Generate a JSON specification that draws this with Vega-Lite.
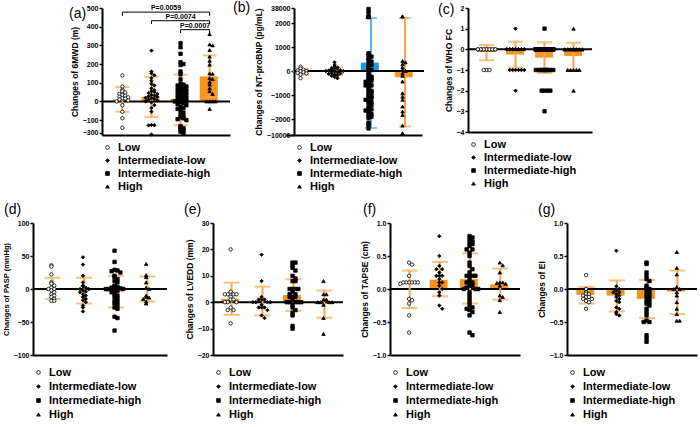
{
"$schema": "https://vega.github.io/schema/vega-lite/v6.json",
"padding": {"left": 2, "top": 1, "right": 0, "bottom": 0},
"background": "white",
"datasets": {
"a": [{"g":"L","v":139},{"g":"L","v":80},{"g":"L","v":62},{"g":"L","v":55},{"g":"L","v":48},{"g":"L","v":40},{"g":"L","v":35},{"g":"L","v":30},{"g":"L","v":25},{"g":"L","v":22},{"g":"L","v":18},{"g":"L","v":15},{"g":"L","v":10},{"g":"L","v":5},{"g":"L","v":0},{"g":"L","v":-20},{"g":"L","v":-55},{"g":"L","v":-90},{"g":"L","v":-255},
{"g":"IL","v":272},{"g":"IL","v":160},{"g":"IL","v":150},{"g":"IL","v":140},{"g":"IL","v":125},{"g":"IL","v":110},{"g":"IL","v":95},{"g":"IL","v":85},{"g":"IL","v":70},{"g":"IL","v":60},{"g":"IL","v":55},{"g":"IL","v":50},{"g":"IL","v":45},{"g":"IL","v":40},{"g":"IL","v":35},{"g":"IL","v":30},{"g":"IL","v":28},{"g":"IL","v":25},{"g":"IL","v":20},{"g":"IL","v":18},{"g":"IL","v":15},{"g":"IL","v":10},{"g":"IL","v":5},{"g":"IL","v":0},{"g":"IL","v":-5},{"g":"IL","v":-20},{"g":"IL","v":-35},{"g":"IL","v":-55},{"g":"IL","v":-230},{"g":"IL","v":-232},{"g":"IL","v":-234},{"g":"IL","v":-315},
{"g":"IH","v":312},{"g":"IH","v":290},{"g":"IH","v":255},{"g":"IH","v":210},{"g":"IH","v":200},{"g":"IH","v":195},{"g":"IH","v":160},{"g":"IH","v":145},{"g":"IH","v":118},{"g":"IH","v":95},{"g":"IH","v":90},{"g":"IH","v":85},{"g":"IH","v":80},{"g":"IH","v":75},{"g":"IH","v":70},{"g":"IH","v":65},{"g":"IH","v":60},{"g":"IH","v":55},{"g":"IH","v":50},{"g":"IH","v":45},{"g":"IH","v":40},{"g":"IH","v":35},{"g":"IH","v":30},{"g":"IH","v":25},{"g":"IH","v":20},{"g":"IH","v":15},{"g":"IH","v":10},{"g":"IH","v":5},{"g":"IH","v":0},{"g":"IH","v":0},{"g":"IH","v":-5},{"g":"IH","v":-10},{"g":"IH","v":-15},{"g":"IH","v":-20},{"g":"IH","v":-30},{"g":"IH","v":-35},{"g":"IH","v":-40},{"g":"IH","v":-50},{"g":"IH","v":-60},{"g":"IH","v":-70},{"g":"IH","v":-80},{"g":"IH","v":-85},{"g":"IH","v":-90},{"g":"IH","v":-95},{"g":"IH","v":-100},{"g":"IH","v":-240},{"g":"IH","v":-250},{"g":"IH","v":-260},{"g":"IH","v":-270},{"g":"IH","v":-280},{"g":"IH","v":-290},{"g":"IH","v":-300},
{"g":"H","v":360},{"g":"H","v":305},{"g":"H","v":300},{"g":"H","v":275},{"g":"H","v":240},{"g":"H","v":218},{"g":"H","v":197},{"g":"H","v":150},{"g":"H","v":148},{"g":"H","v":125},{"g":"H","v":120},{"g":"H","v":105},{"g":"H","v":90},{"g":"H","v":70},{"g":"H","v":55},{"g":"H","v":40},{"g":"H","v":0},{"g":"H","v":0},{"g":"H","v":0},{"g":"H","v":0},{"g":"H","v":-40}],
"as": [{"g":"L","m":10,"lo":-55,"hi":77},{"g":"IL","m":24,"lo":-83,"hi":132},{"g":"IH","m":15,"lo":-232,"hi":143},{"g":"H","m":134,"lo":22,"hi":246}],
"ab": [{"f":"L","t":"H","y":478,"yt":458,"lab":"P=0.0059","mid":"IL"},{"f":"IL","t":"H","y":432,"yt":414,"lab":"P=0.0074","mid":"IH"},{"f":"IH","t":"H","y":384,"yt":366,"lab":"P=0.0007","mid":"IH"}],
"b": [{"g":"L","v":180},{"g":"L","v":100},{"g":"L","v":50},{"g":"L","v":20},{"g":"L","v":0},{"g":"L","v":-20},{"g":"L","v":-50},{"g":"L","v":-80},{"g":"L","v":-100},{"g":"L","v":-150},{"g":"L","v":-300},
{"g":"IL","v":360},{"g":"IL","v":250},{"g":"IL","v":200},{"g":"IL","v":150},{"g":"IL","v":120},{"g":"IL","v":100},{"g":"IL","v":80},{"g":"IL","v":50},{"g":"IL","v":30},{"g":"IL","v":20},{"g":"IL","v":0},{"g":"IL","v":0},{"g":"IL","v":-20},{"g":"IL","v":-50},{"g":"IL","v":-80},{"g":"IL","v":-100},{"g":"IL","v":-120},{"g":"IL","v":-150},{"g":"IL","v":-180},{"g":"IL","v":-200},{"g":"IL","v":-250},{"g":"IL","v":-300},
{"g":"IH","v":35600},{"g":"IH","v":27700},{"g":"IH","v":18000},{"g":"IH","v":17000},{"g":"IH","v":16000},{"g":"IH","v":740},{"g":"IH","v":670},{"g":"IH","v":600},{"g":"IH","v":530},{"g":"IH","v":460},{"g":"IH","v":390},{"g":"IH","v":320},{"g":"IH","v":250},{"g":"IH","v":180},{"g":"IH","v":110},{"g":"IH","v":40},{"g":"IH","v":-100},{"g":"IH","v":-170},{"g":"IH","v":-240},{"g":"IH","v":-300},{"g":"IH","v":-310},{"g":"IH","v":-380},{"g":"IH","v":-400},{"g":"IH","v":-450},{"g":"IH","v":-520},{"g":"IH","v":-600},{"g":"IH","v":-600},{"g":"IH","v":-680},{"g":"IH","v":-760},{"g":"IH","v":-830},{"g":"IH","v":-900},{"g":"IH","v":-900},{"g":"IH","v":-980},{"g":"IH","v":-1050},{"g":"IH","v":-1100},{"g":"IH","v":-1120},{"g":"IH","v":-1200},{"g":"IH","v":-1270},{"g":"IH","v":-1300},{"g":"IH","v":-1340},{"g":"IH","v":-1420},{"g":"IH","v":-1500},{"g":"IH","v":-1580},{"g":"IH","v":-1600},{"g":"IH","v":-1650},{"g":"IH","v":-1730},{"g":"IH","v":-1800},{"g":"IH","v":-1870},{"g":"IH","v":-1900},{"g":"IH","v":-1950},{"g":"IH","v":-3800},{"g":"IH","v":-5000},{"g":"IH","v":-6700},
{"g":"H","v":18000},{"g":"H","v":17500},{"g":"H","v":420},{"g":"H","v":360},{"g":"H","v":280},{"g":"H","v":150},{"g":"H","v":50},{"g":"H","v":0},{"g":"H","v":-100},{"g":"H","v":-200},{"g":"H","v":-440},{"g":"H","v":-930},{"g":"H","v":-1070},{"g":"H","v":-1200},{"g":"H","v":-1480},{"g":"H","v":-1690},{"g":"H","v":-1830},{"g":"H","v":-5300},{"g":"H","v":-9100},{"g":"H","v":-9300}],
"bs": [{"g":"L","m":-40,"lo":-150,"hi":80},{"g":"IL","m":-10,"lo":-170,"hi":150},{"g":"IH","m":350,"lo":-6500,"hi":14000},{"g":"H","m":-260,"lo":-5700,"hi":14000}],
"c": [{"g":"L","v":0},{"g":"L","v":0},{"g":"L","v":0},{"g":"L","v":0},{"g":"L","v":0},{"g":"L","v":0},{"g":"L","v":0},{"g":"L","v":0},{"g":"L","v":0},{"g":"L","v":0},{"g":"L","v":0},{"g":"L","v":0},{"g":"L","v":0},{"g":"L","v":0},{"g":"L","v":-1},{"g":"L","v":-1},{"g":"L","v":-1},
{"g":"IL","v":1},{"g":"IL","v":0},{"g":"IL","v":0},{"g":"IL","v":0},{"g":"IL","v":0},{"g":"IL","v":0},{"g":"IL","v":0},{"g":"IL","v":0},{"g":"IL","v":0},{"g":"IL","v":0},{"g":"IL","v":0},{"g":"IL","v":0},{"g":"IL","v":0},{"g":"IL","v":0},{"g":"IL","v":0},{"g":"IL","v":0},{"g":"IL","v":0},{"g":"IL","v":0},{"g":"IL","v":0},{"g":"IL","v":-1},{"g":"IL","v":-1},{"g":"IL","v":-1},{"g":"IL","v":-1},{"g":"IL","v":-1},{"g":"IL","v":-1},{"g":"IL","v":-2},
{"g":"IH","v":1},{"g":"IH","v":0},{"g":"IH","v":0},{"g":"IH","v":0},{"g":"IH","v":0},{"g":"IH","v":0},{"g":"IH","v":0},{"g":"IH","v":0},{"g":"IH","v":0},{"g":"IH","v":0},{"g":"IH","v":0},{"g":"IH","v":0},{"g":"IH","v":0},{"g":"IH","v":0},{"g":"IH","v":0},{"g":"IH","v":0},{"g":"IH","v":0},{"g":"IH","v":0},{"g":"IH","v":0},{"g":"IH","v":0},{"g":"IH","v":0},{"g":"IH","v":0},{"g":"IH","v":0},{"g":"IH","v":0},{"g":"IH","v":0},{"g":"IH","v":0},{"g":"IH","v":0},{"g":"IH","v":0},{"g":"IH","v":0},{"g":"IH","v":0},{"g":"IH","v":0},{"g":"IH","v":0},{"g":"IH","v":0},{"g":"IH","v":0},{"g":"IH","v":0},{"g":"IH","v":0},{"g":"IH","v":0},{"g":"IH","v":0},{"g":"IH","v":0},{"g":"IH","v":-1},{"g":"IH","v":-1},{"g":"IH","v":-1},{"g":"IH","v":-1},{"g":"IH","v":-1},{"g":"IH","v":-1},{"g":"IH","v":-1},{"g":"IH","v":-1},{"g":"IH","v":-1},{"g":"IH","v":-1},{"g":"IH","v":-2},{"g":"IH","v":-2},{"g":"IH","v":-2},{"g":"IH","v":-2},{"g":"IH","v":-3},
{"g":"H","v":1},{"g":"H","v":0},{"g":"H","v":0},{"g":"H","v":0},{"g":"H","v":0},{"g":"H","v":0},{"g":"H","v":0},{"g":"H","v":0},{"g":"H","v":0},{"g":"H","v":0},{"g":"H","v":0},{"g":"H","v":0},{"g":"H","v":0},{"g":"H","v":0},{"g":"H","v":0},{"g":"H","v":0},{"g":"H","v":0},{"g":"H","v":-1},{"g":"H","v":-1},{"g":"H","v":-1},{"g":"H","v":-1},{"g":"H","v":-1},{"g":"H","v":-2}],
"cs": [{"g":"L","m":-0.13,"lo":-0.53,"hi":0.21},{"g":"IL","m":-0.25,"lo":-0.89,"hi":0.37},{"g":"IH","m":-0.4,"lo":-1.15,"hi":0.34},{"g":"H","m":-0.32,"lo":-0.99,"hi":0.32}],
"d": [{"g":"L","v":36},{"g":"L","v":34},{"g":"L","v":22},{"g":"L","v":10},{"g":"L","v":8},{"g":"L","v":5},{"g":"L","v":2},{"g":"L","v":0},{"g":"L","v":0},{"g":"L","v":-2},{"g":"L","v":-5},{"g":"L","v":-8},{"g":"L","v":-10},{"g":"L","v":-12},{"g":"L","v":-15},{"g":"L","v":-18},{"g":"L","v":-18},
{"g":"IL","v":48},{"g":"IL","v":37},{"g":"IL","v":20},{"g":"IL","v":10},{"g":"IL","v":5},{"g":"IL","v":4},{"g":"IL","v":2},{"g":"IL","v":0},{"g":"IL","v":0},{"g":"IL","v":-2},{"g":"IL","v":-4},{"g":"IL","v":-5},{"g":"IL","v":-8},{"g":"IL","v":-10},{"g":"IL","v":-12},{"g":"IL","v":-15},{"g":"IL","v":-17},{"g":"IL","v":-20},{"g":"IL","v":-25},{"g":"IL","v":-28},{"g":"IL","v":-34},
{"g":"IH","v":58},{"g":"IH","v":41},{"g":"IH","v":29},{"g":"IH","v":28},{"g":"IH","v":27},{"g":"IH","v":25},{"g":"IH","v":20},{"g":"IH","v":18},{"g":"IH","v":15},{"g":"IH","v":12},{"g":"IH","v":10},{"g":"IH","v":5},{"g":"IH","v":4},{"g":"IH","v":3},{"g":"IH","v":2},{"g":"IH","v":1},{"g":"IH","v":0},{"g":"IH","v":0},{"g":"IH","v":0},{"g":"IH","v":-2},{"g":"IH","v":-3},{"g":"IH","v":-5},{"g":"IH","v":-7},{"g":"IH","v":-10},{"g":"IH","v":-12},{"g":"IH","v":-15},{"g":"IH","v":-18},{"g":"IH","v":-20},{"g":"IH","v":-22},{"g":"IH","v":-25},{"g":"IH","v":-28},{"g":"IH","v":-30},{"g":"IH","v":-42},{"g":"IH","v":-44},{"g":"IH","v":-63},
{"g":"H","v":38},{"g":"H","v":21},{"g":"H","v":18},{"g":"H","v":10},{"g":"H","v":2},{"g":"H","v":0},{"g":"H","v":-10},{"g":"H","v":-12},{"g":"H","v":-13},{"g":"H","v":-15},{"g":"H","v":-19},{"g":"H","v":-22}],
"ds": [{"g":"L","m":1,"lo":-15,"hi":17},{"g":"IL","m":-2,"lo":-22,"hi":17},{"g":"IH","m":-4,"lo":-28,"hi":20},{"g":"H","m":0,"lo":-19,"hi":19}],
"e": [{"g":"L","v":20},{"g":"L","v":4},{"g":"L","v":3},{"g":"L","v":3},{"g":"L","v":3},{"g":"L","v":3},{"g":"L","v":2},{"g":"L","v":1},{"g":"L","v":1},{"g":"L","v":0},{"g":"L","v":0},{"g":"L","v":0},{"g":"L","v":-2},{"g":"L","v":-3},{"g":"L","v":-3},{"g":"L","v":-8},
{"g":"IL","v":18},{"g":"IL","v":8},{"g":"IL","v":2},{"g":"IL","v":1},{"g":"IL","v":1},{"g":"IL","v":1},{"g":"IL","v":0},{"g":"IL","v":0},{"g":"IL","v":0},{"g":"IL","v":0},{"g":"IL","v":-1},{"g":"IL","v":-2},{"g":"IL","v":-2},{"g":"IL","v":-2},{"g":"IL","v":-3},{"g":"IL","v":-5},{"g":"IL","v":-6},
{"g":"IH","v":15},{"g":"IH","v":15},{"g":"IH","v":14},{"g":"IH","v":13},{"g":"IH","v":12},{"g":"IH","v":10},{"g":"IH","v":9},{"g":"IH","v":8},{"g":"IH","v":8},{"g":"IH","v":5},{"g":"IH","v":5},{"g":"IH","v":5},{"g":"IH","v":5},{"g":"IH","v":4},{"g":"IH","v":3},{"g":"IH","v":3},{"g":"IH","v":2},{"g":"IH","v":2},{"g":"IH","v":2},{"g":"IH","v":1},{"g":"IH","v":0},{"g":"IH","v":0},{"g":"IH","v":0},{"g":"IH","v":0},{"g":"IH","v":0},{"g":"IH","v":-1},{"g":"IH","v":-2},{"g":"IH","v":-3},{"g":"IH","v":-4},{"g":"IH","v":-5},{"g":"IH","v":-9},{"g":"IH","v":-10},
{"g":"H","v":8},{"g":"H","v":3},{"g":"H","v":3},{"g":"H","v":1},{"g":"H","v":1},{"g":"H","v":0},{"g":"H","v":0},{"g":"H","v":0},{"g":"H","v":0},{"g":"H","v":-1},{"g":"H","v":-6},{"g":"H","v":-12}],
"es": [{"g":"L","m":1.3,"lo":-4.8,"hi":7.4},{"g":"IL","m":0.5,"lo":-5,"hi":5.9},{"g":"IH","m":2.7,"lo":-3.3,"hi":8.7},{"g":"H","m":-0.6,"lo":-5.9,"hi":4.4}],
"f": [{"g":"L","v":0.4},{"g":"L","v":0.37},{"g":"L","v":0.2},{"g":"L","v":0.1},{"g":"L","v":0.1},{"g":"L","v":0.1},{"g":"L","v":0.1},{"g":"L","v":0.1},{"g":"L","v":0.1},{"g":"L","v":0.08},{"g":"L","v":-0.15},{"g":"L","v":-0.17},{"g":"L","v":-0.22},{"g":"L","v":-0.4},{"g":"L","v":-0.66},
{"g":"IL","v":0.8},{"g":"IL","v":0.5},{"g":"IL","v":0.35},{"g":"IL","v":0.3},{"g":"IL","v":0.3},{"g":"IL","v":0.25},{"g":"IL","v":0.2},{"g":"IL","v":0.2},{"g":"IL","v":0.2},{"g":"IL","v":0.15},{"g":"IL","v":0.1},{"g":"IL","v":0.1},{"g":"IL","v":0.05},{"g":"IL","v":0},{"g":"IL","v":-0.05},{"g":"IL","v":-0.1},{"g":"IL","v":-0.25},{"g":"IL","v":-0.3},
{"g":"IH","v":0.8},{"g":"IH","v":0.78},{"g":"IH","v":0.75},{"g":"IH","v":0.72},{"g":"IH","v":0.7},{"g":"IH","v":0.68},{"g":"IH","v":0.65},{"g":"IH","v":0.6},{"g":"IH","v":0.6},{"g":"IH","v":0.55},{"g":"IH","v":0.5},{"g":"IH","v":0.4},{"g":"IH","v":0.35},{"g":"IH","v":0.3},{"g":"IH","v":0.25},{"g":"IH","v":0.2},{"g":"IH","v":0.2},{"g":"IH","v":0.2},{"g":"IH","v":0.2},{"g":"IH","v":0.15},{"g":"IH","v":0.1},{"g":"IH","v":0.1},{"g":"IH","v":0.1},{"g":"IH","v":0.05},{"g":"IH","v":0.05},{"g":"IH","v":0.02},{"g":"IH","v":0},{"g":"IH","v":0},{"g":"IH","v":0},{"g":"IH","v":-0.05},{"g":"IH","v":-0.1},{"g":"IH","v":-0.15},{"g":"IH","v":-0.2},{"g":"IH","v":-0.25},{"g":"IH","v":-0.28},{"g":"IH","v":-0.3},{"g":"IH","v":-0.32},{"g":"IH","v":-0.35},{"g":"IH","v":-0.4},{"g":"IH","v":-0.66},{"g":"IH","v":-0.7},
{"g":"H","v":0.4},{"g":"H","v":0.36},{"g":"H","v":0.25},{"g":"H","v":0.1},{"g":"H","v":0.1},{"g":"H","v":0.09},{"g":"H","v":0.08},{"g":"H","v":0.05},{"g":"H","v":-0.1},{"g":"H","v":-0.12},{"g":"H","v":-0.17},{"g":"H","v":-0.35}],
"fs": [{"g":"L","m":0,"lo":-0.29,"hi":0.28},{"g":"IL","m":0.14,"lo":-0.11,"hi":0.41},{"g":"IH","m":0.15,"lo":-0.22,"hi":0.54},{"g":"H","m":0.07,"lo":-0.16,"hi":0.31}],
"gg": [{"g":"L","v":0.21},{"g":"L","v":0},{"g":"L","v":-0.05},{"g":"L","v":-0.07},{"g":"L","v":-0.08},{"g":"L","v":-0.1},{"g":"L","v":-0.12},{"g":"L","v":-0.12},{"g":"L","v":-0.15},{"g":"L","v":-0.15},{"g":"L","v":-0.18},{"g":"L","v":-0.2},{"g":"L","v":-0.3},
{"g":"IL","v":0.58},{"g":"IL","v":0.04},{"g":"IL","v":0},{"g":"IL","v":-0.02},{"g":"IL","v":-0.05},{"g":"IL","v":-0.05},{"g":"IL","v":-0.08},{"g":"IL","v":-0.1},{"g":"IL","v":-0.12},{"g":"IL","v":-0.15},{"g":"IL","v":-0.18},{"g":"IL","v":-0.2},{"g":"IL","v":-0.28},{"g":"IL","v":-0.3},{"g":"IL","v":-0.35},{"g":"IL","v":-0.38},{"g":"IL","v":-0.4},
{"g":"IH","v":0.4},{"g":"IH","v":0.38},{"g":"IH","v":0.25},{"g":"IH","v":0.2},{"g":"IH","v":0.15},{"g":"IH","v":0.12},{"g":"IH","v":0.05},{"g":"IH","v":0.02},{"g":"IH","v":0},{"g":"IH","v":-0.02},{"g":"IH","v":-0.05},{"g":"IH","v":-0.08},{"g":"IH","v":-0.1},{"g":"IH","v":-0.12},{"g":"IH","v":-0.15},{"g":"IH","v":-0.18},{"g":"IH","v":-0.2},{"g":"IH","v":-0.22},{"g":"IH","v":-0.25},{"g":"IH","v":-0.3},{"g":"IH","v":-0.35},{"g":"IH","v":-0.4},{"g":"IH","v":-0.48},{"g":"IH","v":-0.5},{"g":"IH","v":-0.5},{"g":"IH","v":-0.7},{"g":"IH","v":-0.75},{"g":"IH","v":-0.8},
{"g":"H","v":0.56},{"g":"H","v":0.32},{"g":"H","v":0.22},{"g":"H","v":0.03},{"g":"H","v":0},{"g":"H","v":0},{"g":"H","v":-0.05},{"g":"H","v":-0.1},{"g":"H","v":-0.2},{"g":"H","v":-0.3},{"g":"H","v":-0.38},{"g":"H","v":-0.48},{"g":"H","v":-0.48}],
"gs": [{"g":"L","m":-0.09,"lo":-0.22,"hi":0.03},{"g":"IL","m":-0.1,"lo":-0.34,"hi":0.13},{"g":"IH","m":-0.15,"lo":-0.44,"hi":0.14},{"g":"H","m":-0.04,"lo":-0.38,"hi":0.28}]
},
"config": {
"font": "Liberation Sans",
"view": {"stroke": null},
"axis": {"domainColor": "black", "domainWidth": 2, "tickColor": "black", "tickWidth": 1.5, "tickSize": 3, "labelFontSize": 7, "labelFontWeight": "bold", "labelColor": "black", "labelPadding": 1, "labelOverlap": false, "titleFontSize": 8.5, "titleFontWeight": "bold", "titleColor": "black", "titlePadding": 3, "grid": false},
"axisX": {"labels": false, "ticks": false, "domain": true},
"legend": {"orient": "bottom", "direction": "vertical", "symbolDirection": "vertical", "columns": 1, "labelFontSize": 11, "labelFontWeight": "bold", "labelColor": "black", "symbolSize": 14, "symbolStrokeWidth": 0.8, "rowPadding": 2, "padding": 0, "offset": 7, "labelOffset": 5},
"title": {"fontSize": 14, "fontWeight": "normal", "color": "black", "anchor": "start", "frame": "group", "baseline": "top"}
},
"spacing": 11,
"resolve": {"scale": {"x": "independent", "y": "independent", "shape": "independent", "fill": "independent"}, "legend": {"shape": "independent", "fill": "independent"}},
"vconcat": [
{"spacing": 2,
 "resolve": {"scale": {"x": "independent", "y": "independent", "shape": "independent", "fill": "independent"}, "legend": {"shape": "independent", "fill": "independent"}},
 "hconcat": [
 {"width": 34, "height": 127, "data": {"values": []}, "mark": "point", "encoding": {}},
 {"width": 128, "height": 127,
  "title": {"text": "(a)", "dx": -33, "offset": -17},
  "layer": [
   {"data": {"name": "as"}, "mark": {"type": "bar", "color": "#F7941D", "width": {"band": 0.68}},
    "encoding": {"x": {"field": "g", "type": "nominal", "title": null, "axis": {"labels": false, "ticks": false, "domain": true}, "scale": {"domain": ["L","IL","IH","H"], "paddingInner": 0, "paddingOuter": 0.2}},
     "y": {"field": "m", "type": "quantitative", "title": "Changes of 6MWD (m)", "scale": {"domain": [-320,-230,-110,500], "range": [127,117,114,0], "nice": false, "zero": false}, "axis": {"values": [-300,-100,0,100,200,300,400,500], "tickCount": 20, "format": "d", "labelOverlap": false}}}},
   {"data": {"values": [{"z": 0}]}, "mark": {"type": "rule", "color": "black", "strokeWidth": 2}, "encoding": {"y": {"field": "z", "type": "quantitative"}}},
   {"data": {"name": "as"}, "mark": {"type": "rule", "color": "#F9A54A", "strokeWidth": 2}, "encoding": {"x": {"field": "g", "type": "nominal"}, "y": {"field": "lo", "type": "quantitative"}, "y2": {"field": "hi"}}},
   {"data": {"name": "as"}, "mark": {"type": "tick", "orient": "horizontal", "color": "#F9A54A", "size": 14, "thickness": 2}, "encoding": {"x": {"field": "g", "type": "nominal"}, "y": {"field": "lo", "type": "quantitative"}}},
   {"data": {"name": "as"}, "mark": {"type": "tick", "orient": "horizontal", "color": "#F9A54A", "size": 14, "thickness": 2}, "encoding": {"x": {"field": "g", "type": "nominal"}, "y": {"field": "hi", "type": "quantitative"}}},
   {"data": {"name": "a"}, "transform": [{"calculate": "floor(datum.v/20)", "as": "b"}, {"window": [{"op": "row_number", "as": "r"}], "groupby": ["g","b"]}, {"calculate": "(((datum.r-1)%9)%2==1?1:-1)*ceil(((datum.r-1)%9)/2)", "as": "j"}],
    "mark": {"type": "point", "size": 12, "stroke": "black", "strokeWidth": 0.8, "opacity": 1},
    "encoding": {"x": {"field": "g", "type": "nominal"}, "xOffset": {"field": "j", "type": "quantitative", "scale": {"domain": [-5,5]}}, "y": {"field": "v", "type": "quantitative"},
     "shape": {"field": "g", "type": "nominal", "scale": {"domain": ["L","IL","IH","H"], "range": ["circle","diamond","square","triangle-up"]}, "legend": {"title": null, "rowPadding": 1, "labelExpr": "datum.label=='L'?'Low':datum.label=='IL'?'Intermediate-low':datum.label=='IH'?'Intermediate-high':'High'"}},
     "fill": {"field": "g", "type": "nominal", "scale": {"domain": ["L","IL","IH","H"], "range": ["white","black","black","black"]}, "legend": {"title": null, "rowPadding": 1, "labelExpr": "datum.label=='L'?'Low':datum.label=='IL'?'Intermediate-low':datum.label=='IH'?'Intermediate-high':'High'"}}}},
   {"data": {"name": "ab"}, "mark": {"type": "rule", "color": "black", "strokeWidth": 1}, "encoding": {"x": {"field": "f", "type": "nominal"}, "x2": {"field": "t"}, "y": {"field": "y", "type": "quantitative"}}},
   {"data": {"name": "ab"}, "mark": {"type": "rule", "color": "black", "strokeWidth": 1}, "encoding": {"x": {"field": "f", "type": "nominal"}, "y": {"field": "y", "type": "quantitative"}, "y2": {"field": "yt"}}},
   {"data": {"name": "ab"}, "mark": {"type": "rule", "color": "black", "strokeWidth": 1}, "encoding": {"x": {"field": "t", "type": "nominal"}, "y": {"field": "y", "type": "quantitative"}, "y2": {"field": "yt"}}},
   {"data": {"name": "ab"}, "transform": [{"filter": "datum.lab!='P=0.0074'"}], "mark": {"type": "text", "color": "black", "fontSize": 7, "fontWeight": "bold", "baseline": "bottom", "dy": -1}, "encoding": {"x": {"field": "mid", "type": "nominal", "bandPosition": 1}, "y": {"field": "y", "type": "quantitative"}, "text": {"field": "lab"}}},
   {"data": {"name": "ab"}, "transform": [{"filter": "datum.lab=='P=0.0074'"}], "mark": {"type": "text", "color": "black", "fontSize": 7, "fontWeight": "bold", "baseline": "bottom", "dy": -1}, "encoding": {"x": {"field": "mid", "type": "nominal"}, "y": {"field": "y", "type": "quantitative"}, "text": {"field": "lab"}}}
  ]},
 {"spacing": 8,
  "resolve": {"scale": {"x": "independent", "y": "independent", "shape": "independent", "fill": "independent"}, "legend": {"shape": "independent", "fill": "independent"}},
  "hconcat": [
 {"width": 130, "height": 127,
  "title": {"text": "(b)", "dx": -61, "offset": -11},
  "layer": [
   {"data": {"name": "bs"}, "mark": {"type": "bar", "width": {"band": 0.6}},
    "encoding": {"x": {"field": "g", "type": "nominal", "title": null, "axis": {"labels": false, "ticks": false, "domain": true}, "scale": {"domain": ["L","IL","IH","H"], "range": [-8,128], "paddingInner": 0, "paddingOuter": 0}},
     "y": {"field": "m", "type": "quantitative", "title": "Changes of NT-proBNP (pg/mL)", "scale": {"domain": [-10000,-2000,2000,38000], "range": [127,111,15,0], "nice": false, "zero": false}, "axis": {"values": [-10000,-2000,-1000,0,1000,2000,38000], "tickCount": 20, "format": "d", "labelOverlap": false}},
     "color": {"condition": {"test": "datum.g=='IH'", "value": "#1B9BE4"}, "value": "#F7941D"}}},
   {"data": {"values": [{"z": 0}]}, "mark": {"type": "rule", "color": "black", "strokeWidth": 2}, "encoding": {"y": {"field": "z", "type": "quantitative"}}},
   {"data": {"name": "bs"}, "mark": {"type": "rule", "strokeWidth": 2}, "encoding": {"x": {"field": "g", "type": "nominal"}, "y": {"field": "lo", "type": "quantitative"}, "y2": {"field": "hi"}, "color": {"condition": {"test": "datum.g=='IH'", "value": "#55B2EE"}, "value": "#F9A54A"}}},
   {"data": {"name": "bs"}, "mark": {"type": "tick", "orient": "horizontal", "size": 12, "thickness": 2}, "encoding": {"x": {"field": "g", "type": "nominal"}, "y": {"field": "lo", "type": "quantitative"}, "color": {"condition": {"test": "datum.g=='IH'", "value": "#55B2EE"}, "value": "#F9A54A"}}},
   {"data": {"name": "bs"}, "mark": {"type": "tick", "orient": "horizontal", "size": 12, "thickness": 2}, "encoding": {"x": {"field": "g", "type": "nominal"}, "y": {"field": "hi", "type": "quantitative"}, "color": {"condition": {"test": "datum.g=='IH'", "value": "#55B2EE"}, "value": "#F9A54A"}}},
   {"data": {"name": "b"}, "transform": [{"calculate": "floor(datum.v/120)", "as": "b"}, {"window": [{"op": "row_number", "as": "r"}], "groupby": ["g","b"]}, {"calculate": "(((datum.r-1)%7)%2==1?1:-1)*ceil(((datum.r-1)%7)/2)", "as": "j"}],
    "mark": {"type": "point", "size": 12, "stroke": "black", "strokeWidth": 0.8, "opacity": 1},
    "encoding": {"x": {"field": "g", "type": "nominal"}, "xOffset": {"field": "j", "type": "quantitative", "scale": {"domain": [-5,5]}}, "y": {"field": "v", "type": "quantitative"},
     "shape": {"field": "g", "type": "nominal", "scale": {"domain": ["L","IL","IH","H"], "range": ["circle","diamond","square","triangle-up"]}, "legend": {"title": null, "rowPadding": 1, "labelExpr": "datum.label=='L'?'Low':datum.label=='IL'?'Intermediate-low':datum.label=='IH'?'Intermediate-high':'High'"}},
     "fill": {"field": "g", "type": "nominal", "scale": {"domain": ["L","IL","IH","H"], "range": ["white","black","black","black"]}, "legend": {"title": null, "rowPadding": 1, "labelExpr": "datum.label=='L'?'Low':datum.label=='IL'?'Intermediate-low':datum.label=='IH'?'Intermediate-high':'High'"}}}}
  ]},
 {"width": 124, "height": 124,
  "title": {"text": "(c)", "dx": -30, "offset": -13},
  "layer": [
   {"data": {"name": "cs"}, "mark": {"type": "bar", "color": "#F7941D", "width": {"band": 0.65}},
    "encoding": {"x": {"field": "g", "type": "nominal", "title": null, "axis": {"labels": false, "ticks": false, "domain": true}, "scale": {"domain": ["L","IL","IH","H"], "paddingInner": 0, "paddingOuter": 0.14}},
     "y": {"field": "m", "type": "quantitative", "title": "Changes of WHO FC", "scale": {"domain": [-4,2], "nice": false, "zero": false}, "axis": {"values": [-4,-3,-2,-1,0,1,2], "tickCount": 20, "format": "d", "labelOverlap": false}}}},
   {"data": {"values": [{"z": 0}]}, "mark": {"type": "rule", "color": "black", "strokeWidth": 2}, "encoding": {"y": {"field": "z", "type": "quantitative"}}},
   {"data": {"name": "cs"}, "mark": {"type": "rule", "color": "#F9A54A", "strokeWidth": 2}, "encoding": {"x": {"field": "g", "type": "nominal"}, "y": {"field": "lo", "type": "quantitative"}, "y2": {"field": "hi"}}},
   {"data": {"name": "cs"}, "mark": {"type": "tick", "orient": "horizontal", "color": "#F9A54A", "size": 15, "thickness": 2}, "encoding": {"x": {"field": "g", "type": "nominal"}, "y": {"field": "lo", "type": "quantitative"}}},
   {"data": {"name": "cs"}, "mark": {"type": "tick", "orient": "horizontal", "color": "#F9A54A", "size": 15, "thickness": 2}, "encoding": {"x": {"field": "g", "type": "nominal"}, "y": {"field": "hi", "type": "quantitative"}}},
   {"data": {"name": "c"}, "transform": [{"calculate": "floor(datum.v/0.5)", "as": "b"}, {"window": [{"op": "row_number", "as": "r"}], "groupby": ["g","b"]}, {"calculate": "(((datum.r-1)%7)%2==1?1:-1)*ceil(((datum.r-1)%7)/2)", "as": "j"}],
    "mark": {"type": "point", "size": 12, "stroke": "black", "strokeWidth": 0.8, "opacity": 1},
    "encoding": {"x": {"field": "g", "type": "nominal"}, "xOffset": {"field": "j", "type": "quantitative", "scale": {"domain": [-5,5]}}, "y": {"field": "v", "type": "quantitative"},
     "shape": {"field": "g", "type": "nominal", "scale": {"domain": ["L","IL","IH","H"], "range": ["circle","diamond","square","triangle-up"]}, "legend": {"title": null, "rowPadding": 1, "labelExpr": "datum.label=='L'?'Low':datum.label=='IL'?'Intermediate-low':datum.label=='IH'?'Intermediate-high':'High'"}},
     "fill": {"field": "g", "type": "nominal", "scale": {"domain": ["L","IL","IH","H"], "range": ["white","black","black","black"]}, "legend": {"title": null, "rowPadding": 1, "labelExpr": "datum.label=='L'?'Low':datum.label=='IL'?'Intermediate-low':datum.label=='IH'?'Intermediate-high':'High'"}}}}
  ]}
  ]}
 ]},
{"spacing": 16,
 "resolve": {"scale": {"x": "independent", "y": "independent", "shape": "independent", "fill": "independent"}, "legend": {"shape": "independent", "fill": "independent"}},
 "hconcat": [
 {"width": 134, "height": 132,
  "title": {"text": "(d)", "dx": -29, "offset": 2},
  "layer": [
   {"data": {"name": "ds"}, "mark": {"type": "bar", "color": "#F7941D", "width": {"band": 0.68}},
    "encoding": {"x": {"field": "g", "type": "nominal", "title": null, "axis": {"labels": false, "ticks": false, "domain": true}, "scale": {"domain": ["L","IL","IH","H"], "paddingInner": 0, "paddingOuter": 0.12}},
     "y": {"field": "m", "type": "quantitative", "title": "Changes of PASP (mmHg)", "scale": {"domain": [-100,100], "nice": false, "zero": false}, "axis": {"values": [-100,-50,0,50,100], "tickCount": 20, "format": "d", "titleFontSize": 7.5, "labelOverlap": false}}}},
   {"data": {"values": [{"z": 0}]}, "mark": {"type": "rule", "color": "black", "strokeWidth": 2}, "encoding": {"y": {"field": "z", "type": "quantitative"}}},
   {"data": {"name": "ds"}, "mark": {"type": "rule", "color": "#F9A54A", "strokeWidth": 2}, "encoding": {"x": {"field": "g", "type": "nominal"}, "y": {"field": "lo", "type": "quantitative"}, "y2": {"field": "hi"}}},
   {"data": {"name": "ds"}, "mark": {"type": "tick", "orient": "horizontal", "color": "#F9A54A", "size": 16, "thickness": 2}, "encoding": {"x": {"field": "g", "type": "nominal"}, "y": {"field": "lo", "type": "quantitative"}}},
   {"data": {"name": "ds"}, "mark": {"type": "tick", "orient": "horizontal", "color": "#F9A54A", "size": 16, "thickness": 2}, "encoding": {"x": {"field": "g", "type": "nominal"}, "y": {"field": "hi", "type": "quantitative"}}},
   {"data": {"name": "d"}, "transform": [{"calculate": "floor(datum.v/5)", "as": "b"}, {"window": [{"op": "row_number", "as": "r"}], "groupby": ["g","b"]}, {"calculate": "(((datum.r-1)%9)%2==1?1:-1)*ceil(((datum.r-1)%9)/2)", "as": "j"}],
    "mark": {"type": "point", "size": 12, "stroke": "black", "strokeWidth": 0.8, "opacity": 1},
    "encoding": {"x": {"field": "g", "type": "nominal"}, "xOffset": {"field": "j", "type": "quantitative", "scale": {"domain": [-5,5]}}, "y": {"field": "v", "type": "quantitative"},
     "shape": {"field": "g", "type": "nominal", "scale": {"domain": ["L","IL","IH","H"], "range": ["circle","diamond","square","triangle-up"]}, "legend": {"title": null, "offset": 12, "labelExpr": "datum.label=='L'?'Low':datum.label=='IL'?'Intermediate-low':datum.label=='IH'?'Intermediate-high':'High'"}},
     "fill": {"field": "g", "type": "nominal", "scale": {"domain": ["L","IL","IH","H"], "range": ["white","black","black","black"]}, "legend": {"title": null, "offset": 12, "labelExpr": "datum.label=='L'?'Low':datum.label=='IL'?'Intermediate-low':datum.label=='IH'?'Intermediate-high':'High'"}}}}
  ]},
 {"width": 130, "height": 132,
  "title": {"text": "(e)", "dx": -29, "offset": 2},
  "layer": [
   {"data": {"name": "es"}, "mark": {"type": "bar", "color": "#F7941D", "width": {"band": 0.68}},
    "encoding": {"x": {"field": "g", "type": "nominal", "title": null, "axis": {"labels": false, "ticks": false, "domain": true}, "scale": {"domain": ["L","IL","IH","H"], "paddingInner": 0, "paddingOuter": 0.1}},
     "y": {"field": "m", "type": "quantitative", "title": "Changes of LVEDD (mm)", "scale": {"domain": [-20,30], "nice": false, "zero": false}, "axis": {"values": [-20,-10,0,10,20,30], "tickCount": 20, "format": "d", "labelOverlap": false}}}},
   {"data": {"values": [{"z": 0}]}, "mark": {"type": "rule", "color": "black", "strokeWidth": 2}, "encoding": {"y": {"field": "z", "type": "quantitative"}}},
   {"data": {"name": "es"}, "mark": {"type": "rule", "color": "#F9A54A", "strokeWidth": 2}, "encoding": {"x": {"field": "g", "type": "nominal"}, "y": {"field": "lo", "type": "quantitative"}, "y2": {"field": "hi"}}},
   {"data": {"name": "es"}, "mark": {"type": "tick", "orient": "horizontal", "color": "#F9A54A", "size": 16, "thickness": 2}, "encoding": {"x": {"field": "g", "type": "nominal"}, "y": {"field": "lo", "type": "quantitative"}}},
   {"data": {"name": "es"}, "mark": {"type": "tick", "orient": "horizontal", "color": "#F9A54A", "size": 16, "thickness": 2}, "encoding": {"x": {"field": "g", "type": "nominal"}, "y": {"field": "hi", "type": "quantitative"}}},
   {"data": {"name": "e"}, "transform": [{"calculate": "floor(datum.v/1.5)", "as": "b"}, {"window": [{"op": "row_number", "as": "r"}], "groupby": ["g","b"]}, {"calculate": "(((datum.r-1)%9)%2==1?1:-1)*ceil(((datum.r-1)%9)/2)", "as": "j"}],
    "mark": {"type": "point", "size": 12, "stroke": "black", "strokeWidth": 0.8, "opacity": 1},
    "encoding": {"x": {"field": "g", "type": "nominal"}, "xOffset": {"field": "j", "type": "quantitative", "scale": {"domain": [-5,5]}}, "y": {"field": "v", "type": "quantitative"},
     "shape": {"field": "g", "type": "nominal", "scale": {"domain": ["L","IL","IH","H"], "range": ["circle","diamond","square","triangle-up"]}, "legend": {"title": null, "offset": 12, "labelExpr": "datum.label=='L'?'Low':datum.label=='IL'?'Intermediate-low':datum.label=='IH'?'Intermediate-high':'High'"}},
     "fill": {"field": "g", "type": "nominal", "scale": {"domain": ["L","IL","IH","H"], "range": ["white","black","black","black"]}, "legend": {"title": null, "offset": 12, "labelExpr": "datum.label=='L'?'Low':datum.label=='IL'?'Intermediate-low':datum.label=='IH'?'Intermediate-high':'High'"}}}}
  ]},
 {"width": 130, "height": 132,
  "title": {"text": "(f)", "dx": -27, "offset": 2},
  "layer": [
   {"data": {"name": "fs"}, "mark": {"type": "bar", "color": "#F7941D", "width": {"band": 0.68}},
    "encoding": {"x": {"field": "g", "type": "nominal", "title": null, "axis": {"labels": false, "ticks": false, "domain": true}, "scale": {"domain": ["L","IL","IH","H"], "paddingInner": 0, "paddingOuter": 0.15}},
     "y": {"field": "m", "type": "quantitative", "title": "Changes of TAPSE (cm)", "scale": {"domain": [-1,1], "nice": false, "zero": false}, "axis": {"values": [-1,-0.5,0,0.5,1], "tickCount": 20, "format": ".1f", "labelOverlap": false}}}},
   {"data": {"values": [{"z": 0}]}, "mark": {"type": "rule", "color": "black", "strokeWidth": 2}, "encoding": {"y": {"field": "z", "type": "quantitative"}}},
   {"data": {"name": "fs"}, "mark": {"type": "rule", "color": "#F9A54A", "strokeWidth": 2}, "encoding": {"x": {"field": "g", "type": "nominal"}, "y": {"field": "lo", "type": "quantitative"}, "y2": {"field": "hi"}}},
   {"data": {"name": "fs"}, "mark": {"type": "tick", "orient": "horizontal", "color": "#F9A54A", "size": 16, "thickness": 2}, "encoding": {"x": {"field": "g", "type": "nominal"}, "y": {"field": "lo", "type": "quantitative"}}},
   {"data": {"name": "fs"}, "mark": {"type": "tick", "orient": "horizontal", "color": "#F9A54A", "size": 16, "thickness": 2}, "encoding": {"x": {"field": "g", "type": "nominal"}, "y": {"field": "hi", "type": "quantitative"}}},
   {"data": {"name": "f"}, "transform": [{"calculate": "floor(datum.v/0.06)", "as": "b"}, {"window": [{"op": "row_number", "as": "r"}], "groupby": ["g","b"]}, {"calculate": "(((datum.r-1)%9)%2==1?1:-1)*ceil(((datum.r-1)%9)/2)", "as": "j"}],
    "mark": {"type": "point", "size": 12, "stroke": "black", "strokeWidth": 0.8, "opacity": 1},
    "encoding": {"x": {"field": "g", "type": "nominal"}, "xOffset": {"field": "j", "type": "quantitative", "scale": {"domain": [-5,5]}}, "y": {"field": "v", "type": "quantitative"},
     "shape": {"field": "g", "type": "nominal", "scale": {"domain": ["L","IL","IH","H"], "range": ["circle","diamond","square","triangle-up"]}, "legend": {"title": null, "offset": 12, "labelExpr": "datum.label=='L'?'Low':datum.label=='IL'?'Intermediate-low':datum.label=='IH'?'Intermediate-high':'High'"}},
     "fill": {"field": "g", "type": "nominal", "scale": {"domain": ["L","IL","IH","H"], "range": ["white","black","black","black"]}, "legend": {"title": null, "offset": 12, "labelExpr": "datum.label=='L'?'Low':datum.label=='IL'?'Intermediate-low':datum.label=='IH'?'Intermediate-high':'High'"}}}}
  ]},
 {"width": 130, "height": 132,
  "title": {"text": "(g)", "dx": -29, "offset": 2},
  "layer": [
   {"data": {"name": "gs"}, "mark": {"type": "bar", "color": "#F7941D", "width": {"band": 0.68}},
    "encoding": {"x": {"field": "g", "type": "nominal", "title": null, "axis": {"labels": false, "ticks": false, "domain": true}, "scale": {"domain": ["L","IL","IH","H"], "paddingInner": 0, "paddingOuter": 0.15}},
     "y": {"field": "m", "type": "quantitative", "title": "Changes of EI", "scale": {"domain": [-1,1], "nice": false, "zero": false}, "axis": {"values": [-1,-0.5,0,0.5,1], "tickCount": 20, "format": ".1f", "labelOverlap": false}}}},
   {"data": {"values": [{"z": 0}]}, "mark": {"type": "rule", "color": "black", "strokeWidth": 2}, "encoding": {"y": {"field": "z", "type": "quantitative"}}},
   {"data": {"name": "gs"}, "mark": {"type": "rule", "color": "#F9A54A", "strokeWidth": 2}, "encoding": {"x": {"field": "g", "type": "nominal"}, "y": {"field": "lo", "type": "quantitative"}, "y2": {"field": "hi"}}},
   {"data": {"name": "gs"}, "mark": {"type": "tick", "orient": "horizontal", "color": "#F9A54A", "size": 16, "thickness": 2}, "encoding": {"x": {"field": "g", "type": "nominal"}, "y": {"field": "lo", "type": "quantitative"}}},
   {"data": {"name": "gs"}, "mark": {"type": "tick", "orient": "horizontal", "color": "#F9A54A", "size": 16, "thickness": 2}, "encoding": {"x": {"field": "g", "type": "nominal"}, "y": {"field": "hi", "type": "quantitative"}}},
   {"data": {"name": "gg"}, "transform": [{"calculate": "floor(datum.v/0.05)", "as": "b"}, {"window": [{"op": "row_number", "as": "r"}], "groupby": ["g","b"]}, {"calculate": "(((datum.r-1)%9)%2==1?1:-1)*ceil(((datum.r-1)%9)/2)", "as": "j"}],
    "mark": {"type": "point", "size": 12, "stroke": "black", "strokeWidth": 0.8, "opacity": 1},
    "encoding": {"x": {"field": "g", "type": "nominal"}, "xOffset": {"field": "j", "type": "quantitative", "scale": {"domain": [-5,5]}}, "y": {"field": "v", "type": "quantitative"},
     "shape": {"field": "g", "type": "nominal", "scale": {"domain": ["L","IL","IH","H"], "range": ["circle","diamond","square","triangle-up"]}, "legend": {"title": null, "offset": 12, "labelExpr": "datum.label=='L'?'Low':datum.label=='IL'?'Intermediate-low':datum.label=='IH'?'Intermediate-high':'High'"}},
     "fill": {"field": "g", "type": "nominal", "scale": {"domain": ["L","IL","IH","H"], "range": ["white","black","black","black"]}, "legend": {"title": null, "offset": 12, "labelExpr": "datum.label=='L'?'Low':datum.label=='IL'?'Intermediate-low':datum.label=='IH'?'Intermediate-high':'High'"}}}}
  ]}
 ]}
]
}
